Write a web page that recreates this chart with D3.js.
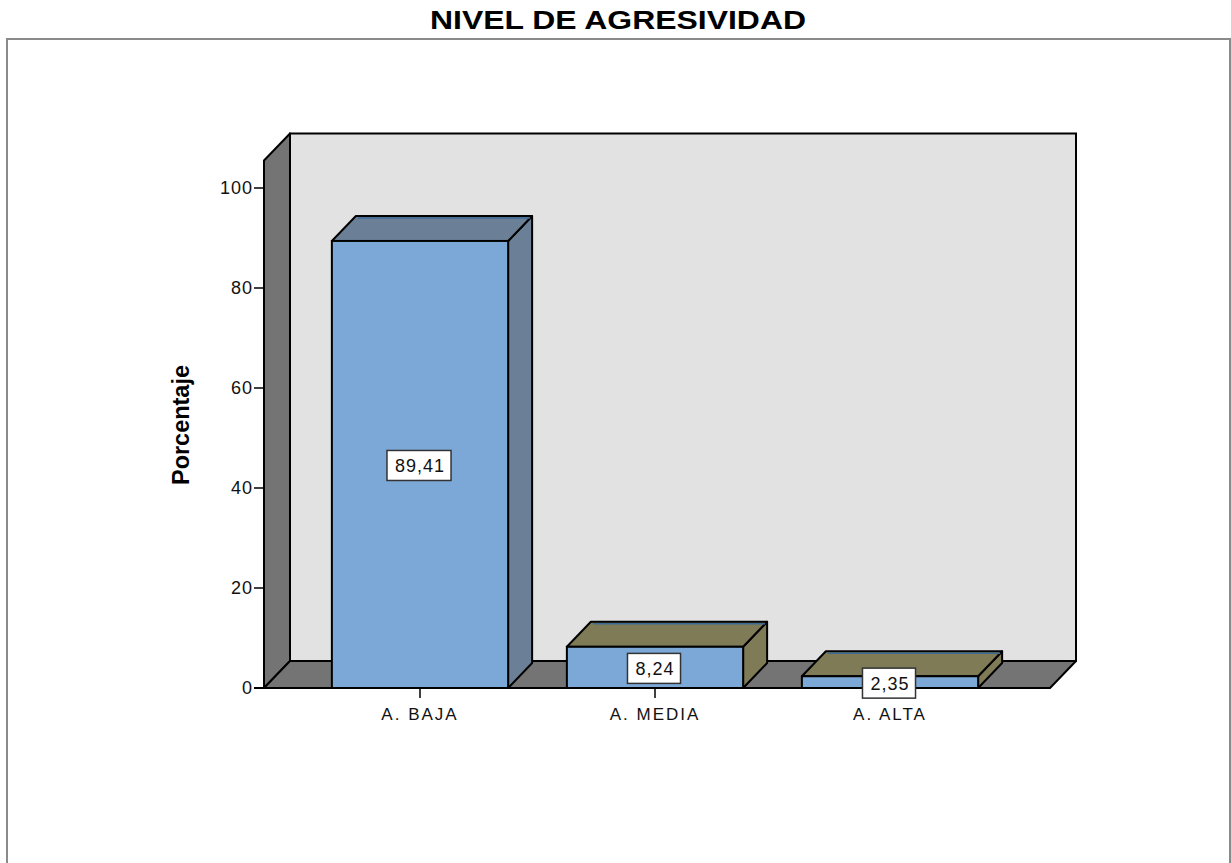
<!DOCTYPE html>
<html><head><meta charset="utf-8">
<script src="https://cdnjs.cloudflare.com/ajax/libs/d3/7.8.5/d3.min.js"></script>
<style>body{margin:0;background:#fff}svg{display:block;font-family:"Liberation Sans",Arial,sans-serif}</style>
</head><body><svg id="c" width="1231" height="863"></svg>
<script>
const title = "NIVEL DE AGRESIVIDAD";
const yLabel = "Porcentaje";
const categories = ["A. BAJA", "A. MEDIA", "A. ALTA"];
const values = [89.41, 8.24, 2.35];
const valueLabels = ["89,41", "8,24", "2,35"];
const yTicks = [0, 20, 40, 60, 80, 100];
const topColors = ["#6b8097", "#7f7b57", "#7f7b57"];

const svg = d3.select("#c");
const y = d3.scaleLinear().domain([0, 105.5]).range([688, 160.5]);
const x = d3.scaleBand().domain(categories).range([302.5, 1007.5]).paddingInner(0.25).paddingOuter(0.125);
const frontLeft = 264, frontRight = 1050;
const wdx = 26, wdy = 27;   // wall depth
const bdx = 24, bdy = 25;   // bar depth

// outer frame
svg.append("rect").attr("x", 7).attr("y", 39).attr("width", 1223).attr("height", 840)
  .attr("fill", "none").attr("stroke", "#8a8a8a").attr("stroke-width", 2);

// title
svg.append("text").attr("x", 618).attr("y", 29).attr("text-anchor", "middle")
  .attr("font-size", 25).attr("font-weight", "bold").attr("textLength", 376).attr("lengthAdjust", "spacingAndGlyphs")
  .text(title);

const y0 = y(0), yTop = y.range()[1];
const pts = a => a.map(p => p.join(",")).join(" ");
// back wall
svg.append("polygon").attr("points", pts([[frontLeft + wdx, yTop - wdy], [frontRight + wdx, yTop - wdy], [frontRight + wdx, y0 - wdy], [frontLeft + wdx, y0 - wdy]]))
  .attr("fill", "#e2e2e2").attr("stroke", "#000").attr("stroke-width", 2);
// left wall
svg.append("polygon").attr("points", pts([[frontLeft, y0], [frontLeft, yTop], [frontLeft + wdx, yTop - wdy], [frontLeft + wdx, y0 - wdy]]))
  .attr("fill", "#747474").attr("stroke", "#000").attr("stroke-width", 2).attr("stroke-linejoin", "round");
// floor
svg.append("polygon").attr("points", pts([[frontLeft, y0], [frontLeft + wdx, y0 - wdy], [frontRight + wdx, y0 - wdy], [frontRight, y0]]))
  .attr("fill", "#747474").attr("stroke", "#000").attr("stroke-width", 2).attr("stroke-linejoin", "round");

// bars
const bars = svg.append("g");
categories.forEach((c, i) => {
  const x0 = x(c), x1 = x(c) + x.bandwidth(), yt = y(values[i]);
  const g = bars.append("g");
  g.append("polygon").attr("points", pts([[x1, y0], [x1, yt], [x1 + bdx, yt - bdy], [x1 + bdx, y0 - bdy]]))
    .attr("fill", topColors[i]).attr("stroke", "#000").attr("stroke-width", 2).attr("stroke-linejoin", "round");
  g.append("polygon").attr("points", pts([[x0, yt], [x0 + bdx, yt - bdy], [x1 + bdx, yt - bdy], [x1, yt]]))
    .attr("fill", topColors[i]).attr("stroke", "#000").attr("stroke-width", 2).attr("stroke-linejoin", "round");
  g.append("line").attr("x1", x0 + bdx + 2).attr("x2", x1 + bdx - 2).attr("y1", yt - bdy + 2).attr("y2", yt - bdy + 2)
    .attr("stroke", "#3d6a95").attr("stroke-width", 1.5);
  g.append("rect").attr("x", x0).attr("y", yt).attr("width", x1 - x0).attr("height", y0 - yt)
    .attr("fill", "#7ba8d6").attr("stroke", "#000").attr("stroke-width", 2);
});

// y axis ticks
const ya = svg.append("g");
yTicks.forEach(t => {
  ya.append("line").attr("x1", frontLeft - 10).attr("x2", frontLeft).attr("y1", y(t)).attr("y2", y(t)).attr("stroke", "#000").attr("stroke-width", 1.5);
  ya.append("text").attr("x", frontLeft - 11).attr("y", y(t)).attr("dy", "0.36em").attr("text-anchor", "end")
    .attr("font-size", 18).attr("letter-spacing", 1).attr("fill", "#111").text(t);
});
svg.append("line").attr("x1", frontLeft - 10).attr("x2", frontRight).attr("y1", y0).attr("y2", y0).attr("stroke", "#000").attr("stroke-width", 2);

// y label
svg.append("text").attr("transform", `translate(189,${(y(100) + y(0)) / 2 - 13}) rotate(-90)`).attr("text-anchor", "middle")
  .attr("font-size", 23).attr("font-weight", "bold").attr("textLength", 120).attr("lengthAdjust", "spacingAndGlyphs")
  .text(yLabel);

// x ticks and labels
categories.forEach(c => {
  const cx = x(c) + x.bandwidth() / 2;
  svg.append("line").attr("x1", cx).attr("x2", cx).attr("y1", y0).attr("y2", y0 + 10).attr("stroke", "#000").attr("stroke-width", 1.5);
  svg.append("text").attr("x", cx).attr("y", 720).attr("text-anchor", "middle")
    .attr("font-size", 17).attr("letter-spacing", 2).attr("fill", "#111").text(c);
});

// value labels
categories.forEach((c, i) => {
  const cx = x(c) + x.bandwidth() / 2;
  const cy = (y(values[i]) + y0) / 2 + 1;
  const g = svg.append("g");
  const r = g.append("rect").attr("fill", "#fff").attr("stroke", "#333").attr("stroke-width", 1.5);
  const t = g.append("text").attr("x", cx).attr("y", cy).attr("dy", "0.36em").attr("text-anchor", "middle")
    .attr("font-size", 18).attr("letter-spacing", 1).attr("fill", "#111").text(valueLabels[i]);
  const w = t.node().getComputedTextLength();
  r.attr("x", cx - w / 2 - 8).attr("y", cy - 15).attr("width", w + 14).attr("height", 30);
});
</script></body></html>
